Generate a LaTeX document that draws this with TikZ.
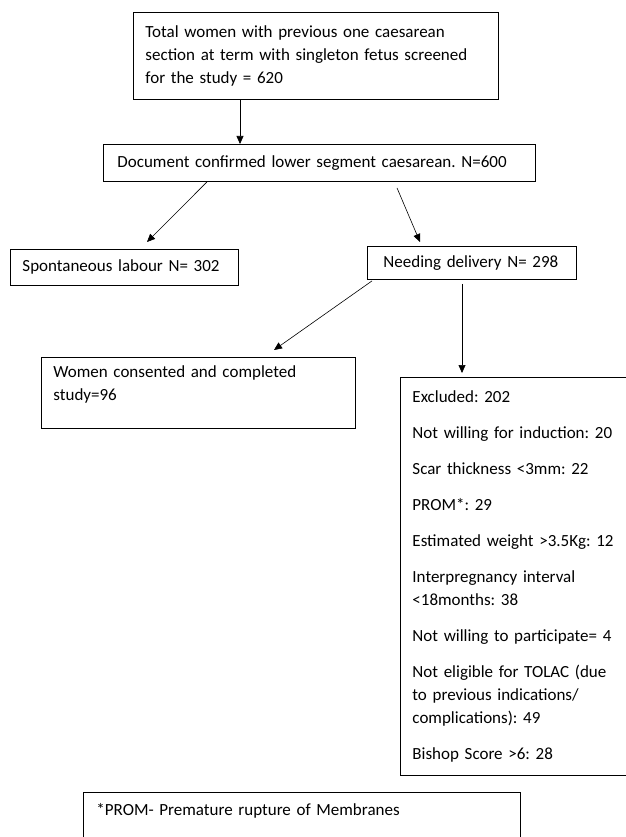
\documentclass[tikz,border=0pt]{standalone}
\usepackage{fontspec}
\setmainfont{Carlito}
\usepackage{tikz}
\usetikzlibrary{arrows.meta}

\begin{document}
\frenchspacing
\begin{tikzpicture}[x=1pt,y=-1pt,
	font=\fontsize{17}{23}\selectfont,
	flowbox/.style={draw,rectangle,anchor=north west,align=left,inner ysep=0pt,line width=0.9pt},
	arr/.style={-{Triangle[length=8pt,width=7pt]},line width=0.6pt}]
	\useasboundingbox (0,0) rectangle (625,837);
	% boxes
	\node[flowbox,inner xsep=12pt,text width=341pt,minimum height=87pt] (total) at (133,12)
		{Total women with previous one caesarean\\section at term with singleton fetus screened\\for the study = 620};
	\node[flowbox,inner xsep=14pt,text width=404pt,minimum height=37pt] (doc) at (103,144)
		{Document confirmed lower segment caesarean. N=600};
	\node[flowbox,inner xsep=12pt,text width=204pt,minimum height=36pt] (spont) at (10,249)
		{Spontaneous labour N= 302};
	\node[flowbox,inner xsep=16pt,text width=177pt,minimum height=33pt] (need) at (367,246)
		{Needing delivery N= 298};
	\node[flowbox,inner xsep=12pt,text width=290pt,minimum height=71pt] (women) at (41,357)
		{Women consented and completed\\study=96\\[-4pt]\mbox{}};
	\node[flowbox,inner xsep=12pt,text width=376pt,minimum height=398pt] (excl) at (400,377)
		{Excluded: 202\\[13pt]
		Not willing for induction: 20\\[13pt]
		Scar thickness <3mm: 22\\[13pt]
		PROM*: 29\\[13pt]
		Estimated weight >3.5Kg: 12\\[13pt]
		Interpregnancy interval\\<18months: 38\\[13pt]
		Not willing to participate= 4\\[13pt]
		Not eligible for TOLAC (due\\to previous indications/\\complications): 49\\[13pt]
		Bishop Score >6: 28};
	\node[flowbox,inner xsep=13pt,inner ysep=11pt,text width=411pt,text height=12pt,text depth=40pt] (note) at (83,792)
		{*PROM- Premature rupture of Membranes};
	% arrows
	\draw[arr] ([xshift=107pt]total.south west) -- ([xshift=137pt]doc.north west);
	\draw[arr] ([xshift=104pt]doc.south west) -- ([xshift=137pt,yshift=7pt]spont.north west);
	\draw[arr] ([xshift=294pt,yshift=-6pt]doc.south west) -- ([xshift=53pt,yshift=4pt]need.north west);
	\draw[arr] ([xshift=5pt,yshift=-1pt]need.south west) -- ([xshift=233pt,yshift=7pt]women.north west);
	\draw[arr] ([xshift=95pt,yshift=-4pt]need.south west) -- ([xshift=62pt,yshift=4pt]excl.north west);
\end{tikzpicture}
\end{document}
